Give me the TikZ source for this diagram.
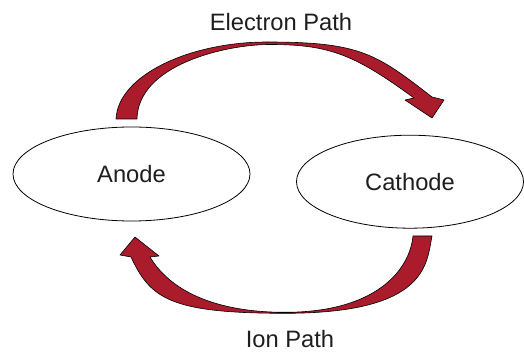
\documentclass[tikz,border=0pt]{standalone}
\usepackage{fontspec}
\setmainfont{Liberation Sans}
\usetikzlibrary{shapes.geometric}
\definecolor{arrowred}{RGB}{170,27,44}
\definecolor{inkgray}{RGB}{30,30,30}
\begin{document}
\begin{tikzpicture}[x=1pt,y=-1pt,
  electrode/.style={ellipse,draw=black,line width=0.8pt,fill=white,inner sep=0pt,
    text=inkgray,font=\fontsize{23.7pt}{28pt}\selectfont},
  caption/.style={anchor=base,inner sep=0pt,text=inkgray,font=\fontsize{23.7pt}{28pt}\selectfont},
  blockarrow/.style={fill=arrowred,draw=black,line width=0.6pt,line join=round}]
\useasboundingbox (0,0) rectangle (524,352);

% electrodes
\node[electrode,minimum width=237pt,minimum height=94pt] (anode) at (131.5,174) {Anode};
\node[electrode,minimum width=227pt,minimum height=93pt] (cathode) at (410,181.7) {Cathode};

% path labels
\node[caption] (elabel) at (281,31) {Electron Path};
\node[caption] (ilabel) at (290,347) {Ion Path};

% electron path: curved block arrow from anode over to cathode
\filldraw[blockarrow]
  (116,119) .. controls (118,75) and (190,42) .. (267,42)
            .. controls (360,42) and (376,53.5) .. (432,97)
  -- (444,100) -- (432,118) -- (405,100) -- (414,98)
            .. controls (355,55) and (330,44.5) .. (270,44.5)
            .. controls (225,44.5) and (138,65) .. (137,119)
  -- cycle;

% ion path: curved block arrow from cathode back under to anode
\filldraw[blockarrow]
  (432,236) .. controls (426.5,263.5) and (428,313.3) .. (285,313.3)
            .. controls (169,313.3) and (150.3,298) .. (131,257)
  -- (120,255) -- (135,237) -- (159,256) -- (150,257)
            .. controls (169.7,289.8) and (213.3,312.3) .. (285,312.3)
            .. controls (375,312.3) and (409.5,271) .. (413,236)
  -- cycle;
\end{tikzpicture}
\end{document}
